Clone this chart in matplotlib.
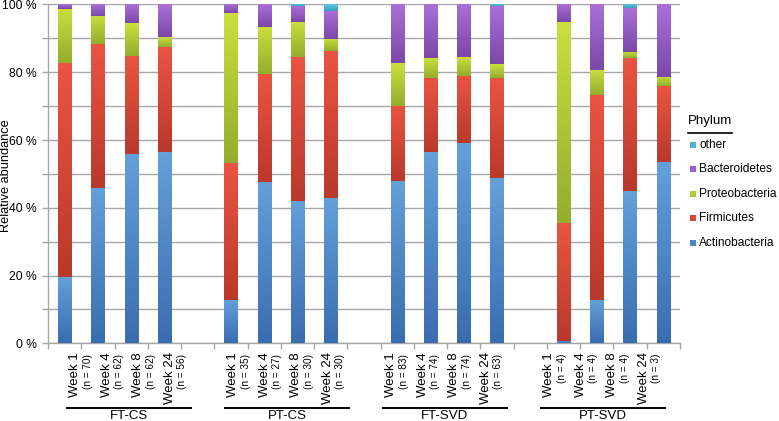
import numpy as np
import matplotlib
matplotlib.use("Agg")
import matplotlib.pyplot as plt
from matplotlib import transforms
from matplotlib.patches import Rectangle
from matplotlib.lines import Line2D
from matplotlib.colors import to_rgb

plt.rcParams['font.family'] = ['Liberation Sans', 'DejaVu Sans']

# ---------------- data ----------------
groups = ['FT-CS', 'PT-CS', 'FT-SVD', 'PT-SVD']
weeks = ['Week 1', 'Week 4', 'Week 8', 'Week 24']
n_counts = [70, 62, 62, 56,
            35, 27, 30, 30,
            83, 74, 74, 63,
            4, 4, 4, 3]

phyla = ['Actinobacteria', 'Firmicutes', 'Proteobacteria', 'Bacteroidetes', 'other']
actinobacteria = [19.6, 45.9, 55.8, 56.6,
                  12.7, 47.6, 42.0, 42.8,
                  48.0, 56.4, 59.1, 48.9,
                  0.8, 12.7, 45.1, 53.6]
firmicutes = [63.1, 42.3, 29.1, 30.8,
              40.4, 31.9, 42.4, 43.4,
              22.1, 21.8, 19.8, 29.5,
              34.6, 60.6, 39.0, 22.2]
proteobacteria = [16.0, 8.5, 9.7, 2.9,
                  44.4, 13.8, 10.4, 3.6,
                  12.5, 5.9, 5.7, 4.0,
                  59.4, 7.5, 2.0, 2.9]
bacteroidetes = [1.3, 3.3, 5.4, 9.7,
                 2.5, 6.7, 4.7, 8.4,
                 17.4, 15.9, 15.4, 17.2,
                 5.2, 19.2, 12.9, 21.3]
other = [0.0, 0.0, 0.0, 0.0,
         0.0, 0.0, 0.5, 1.8,
         0.0, 0.0, 0.0, 0.4,
         0.0, 0.0, 1.0, 0.0]

series = [actinobacteria, firmicutes, proteobacteria, bacteroidetes, other]
# (light top, dark bottom)
grad_colors = [('#64a0da', '#3a6db0'),
               ('#ea5442', '#b9392b'),
               ('#cadf3e', '#94ad2e'),
               ('#aa70d8', '#7b48a8'),
               ('#62c6de', '#3a9cbd')]
legend_colors = ['#4a86c8', '#d6473a', '#b2c93a', '#9a5fc8', '#4bb3d0']

# ---------------- figure ----------------
W, H = 779, 421
fig = plt.figure(figsize=(W / 100, H / 100), dpi=100)
ax_left, ax_right, ax_bot, ax_top = 48, 680, 343.3, 4.5
ax = fig.add_axes([ax_left / W, (H - ax_bot) / H, (ax_right - ax_left) / W, (ax_bot - ax_top) / H])

n_groups = len(groups)
n_weeks = len(weeks)
slots = [g * (n_weeks + 1) + w for g in range(n_groups) for w in range(n_weeks)]
slots = np.array(slots, dtype=float)
bar_w = 0.4

bottom = np.zeros(len(slots))
for vals, (lc, dc) in zip(series, grad_colors):
    vals = np.array(vals, dtype=float)
    bars = ax.bar(slots, vals, bar_w, bottom=bottom, color=dc, linewidth=0, zorder=2)
    c1 = np.array(to_rgb(lc))
    c0 = np.array(to_rgb(dc))
    t = np.linspace(0, 1, 64)[:, None]
    grad = (c0 * (1 - t) + c1 * t)[:, None, :]
    for p in bars:
        if p.get_height() <= 0:
            continue
        x0, y0 = p.get_x(), p.get_y()
        ax.imshow(grad, extent=[x0, x0 + p.get_width(), y0, y0 + p.get_height()],
                  origin='lower', aspect='auto', interpolation='bilinear', zorder=3)
    bottom += vals

ax.set_xlim(-0.5, slots[-1] + 0.5)
ax.set_ylim(0, 100)

grid_c = '#a6a6a6'
ax.set_yticks(np.arange(0, 101, 20))
ax.set_yticks(np.arange(0, 101, 10), minor=True)
ax.set_yticklabels([f'{v} %' for v in range(0, 101, 20)], fontsize=8.7)
ax.yaxis.grid(True, which='both', color=grid_c, linewidth=1.0, zorder=0)
ax.set_axisbelow(True)
ax.tick_params(axis='y', which='both', length=4, color=grid_c, width=1, pad=4)
ax.set_xticks(np.arange(-0.5, slots[-1] + 0.51, 1.0))
ax.set_xticklabels([])
ax.tick_params(axis='x', length=4, color=grid_c, width=1)
for s in ['top', 'right']:
    ax.spines[s].set_visible(False)
for s in ['left', 'bottom']:
    ax.spines[s].set_color(grid_c)
    ax.spines[s].set_linewidth(1.0)

fig.text(6 / W, (H - 176) / H, 'Relative abundance', rotation=90, ha='center', va='center', fontsize=9.2)

# ---------------- x labels ----------------
trans = transforms.blended_transform_factory(ax.transData, fig.transFigure)
label_pos = 0.31 + 0.95 * slots
y_lab = (H - 352) / H
for i, (lx, nn) in enumerate(zip(label_pos, n_counts)):
    wk = weeks[i % n_weeks]
    ax.text(lx, y_lab, wk, rotation=90, ha='center', va='top', fontsize=9.5,
            transform=trans, clip_on=False)
    ax.text(lx + 0.38, y_lab - 0.004, f'(n = {nn})', rotation=90, ha='center', va='top',
            fontsize=7.2, transform=trans, clip_on=False)

y_line = (H - 407.5) / H
y_glab = (H - 416) / H
for g, name in enumerate(groups):
    gl = label_pos[g * n_weeks:(g + 1) * n_weeks]
    c = (gl[0] + gl[-1]) / 2 + 0.2
    ax.add_line(Line2D([c - 1.85, c + 1.85], [y_line, y_line], color='black', linewidth=1.4,
                       transform=trans, clip_on=False))
    ax.text(c, y_glab, name, ha='center', va='center', fontsize=9.5, transform=trans, clip_on=False)

# ---------------- legend ----------------
lx0 = 688
fig.text(lx0 / W, (H - 121) / H, 'Phylum', ha='left', va='center', fontsize=9.5)
fig.add_artist(Line2D([lx0 / W, 732 / W], [(H - 132.5) / H] * 2, color='black', linewidth=1.2))
leg_y = [145, 169.3, 194, 218.3, 243]
for name, col, yy in zip(phyla[::-1], legend_colors[::-1], leg_y):
    fig.add_artist(Rectangle((690 / W, (H - yy - 3) / H), 6 / W, 6 / H, facecolor=col,
                             edgecolor='none', transform=fig.transFigure))
    fig.text(699 / W, (H - yy) / H, name, ha='left', va='center', fontsize=8.6)

fig.savefig('out.png', dpi=100)
